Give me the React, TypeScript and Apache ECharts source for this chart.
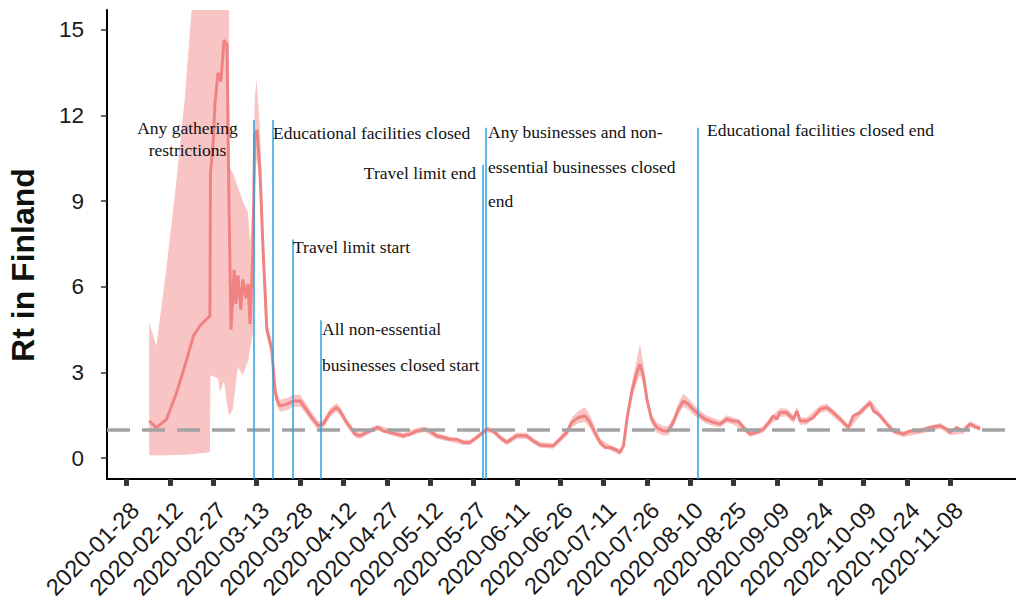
import React, { useEffect, useRef } from "react";
import * as echarts from "echarts";

// ---------- data ----------
const xTickLabels = [
  "2020-01-28", "2020-02-12", "2020-02-27", "2020-03-13", "2020-03-28",
  "2020-04-12", "2020-04-27", "2020-05-12", "2020-05-27", "2020-06-11",
  "2020-06-26", "2020-07-11", "2020-07-26", "2020-08-10", "2020-08-25",
  "2020-09-09", "2020-09-24", "2020-10-09", "2020-10-24", "2020-11-08",
];
const yTickValues = [0, 3, 6, 9, 12, 15];

// days after 2020-01-28
const rtDays = [
  7.8, 10.3, 13.8, 17.3, 20.8, 23.1, 25.3, 28.8, 29.0, 29.9,
  30.6, 31.6, 32.6, 33.7, 34.7, 35.4, 36.1, 37.2, 37.8, 38.5,
  39.5, 40.2, 41.3, 42.0, 42.7, 43.7, 44.3, 45.1, 46.1, 47.2,
  48.5, 50.2, 51.3, 51.9, 53.0, 55.4, 57.7, 60.0, 61.7, 64.1,
  66.3, 68.0, 70.4, 72.6, 73.8, 76.1, 79.0, 80.7, 83.1, 85.3,
  87.0, 88.8, 91.2, 93.4, 95.7, 98.1, 100.3, 103.2, 105.0, 107.2,
  109.6, 111.9, 114.2, 116.5, 118.8, 121.1, 124.6, 126.8, 129.2, 131.5,
  134.9, 138.4, 140.7, 143.0, 145.4, 147.6, 149.9, 152.3, 154.0, 156.3,
  158.6, 160.3, 162.0, 163.8, 165.5, 167.2, 169.0, 170.7, 171.9, 173.1,
  174.7, 176.5, 177.6, 178.8, 180.0, 181.6, 183.4, 185.7, 187.4, 189.1,
  190.9, 192.6, 194.3, 196.0, 197.8, 200.2, 203.0, 205.3, 207.6, 209.9,
  211.6, 213.4, 215.7, 218.0, 220.3, 222.6, 223.7, 224.9, 226.1, 228.3,
  230.7, 231.9, 233.0, 235.3, 237.6, 239.9, 242.2, 243.9, 246.9, 249.7,
  251.4, 253.8, 255.4, 257.2, 258.4, 260.7, 263.0, 265.3, 268.7, 271.0,
  274.6, 278.0, 281.5, 283.7, 284.9, 287.2, 289.4, 291.8, 294.2, 295.3,
];
const rtValues = [
  1.30, 1.07, 1.36, 2.30, 3.46, 4.28, 4.63, 4.98, 10.0, 11.0,
  12.5, 13.5, 13.2, 14.65, 14.5, 9.0, 4.5, 6.6, 5.4, 6.4,
  5.2, 6.26, 5.6, 6.1, 4.7, 7.3, 11.3, 11.5, 10.1, 7.3,
  4.51, 3.81, 2.41, 2.06, 1.83, 1.89, 2.0, 2.0, 1.77, 1.42,
  1.13, 1.19, 1.60, 1.77, 1.65, 1.25, 0.84, 0.78, 0.90, 1.01,
  1.07, 0.95, 0.90, 0.84, 0.78, 0.84, 0.95, 1.01, 0.95, 0.78,
  0.72, 0.66, 0.66, 0.55, 0.55, 0.72, 1.01, 0.95, 0.72, 0.55,
  0.78, 0.78, 0.60, 0.46, 0.43, 0.43, 0.66, 0.90, 1.25, 1.42,
  1.48, 1.25, 0.90, 0.55, 0.37, 0.37, 0.31, 0.20, 0.43, 1.36,
  2.30, 3.00, 3.29, 2.88, 2.06, 1.36, 1.07, 0.95, 0.95, 1.25,
  1.71, 2.00, 1.89, 1.71, 1.54, 1.36, 1.25, 1.19, 1.36, 1.30,
  1.30, 1.07, 0.84, 0.90, 1.01, 1.30, 1.48, 1.36, 1.60, 1.60,
  1.36, 1.65, 1.30, 1.30, 1.42, 1.71, 1.77, 1.65, 1.36, 1.07,
  1.48, 1.60, 1.77, 1.94, 1.65, 1.48, 1.19, 0.95, 0.84, 0.95,
  0.95, 1.07, 1.13, 1.01, 0.90, 1.07, 0.95, 1.19, 1.07, 1.03,
];

const bandDays = [
  7.8, 10.3, 13.8, 17.3, 20.1, 22.5, 28.8, 29.0, 31.6, 32.3,
  33.7, 34.7, 35.4, 35.6, 36.7, 38.5, 40.2, 42.0, 42.7, 43.7,
  44.3, 44.9, 46.1, 47.2, 48.5, 50.2, 51.3, 51.9, 53.0, 55.4,
  57.7, 60.0, 61.7, 64.1, 66.3, 68.0, 70.4, 72.6, 73.8, 76.1,
  79.0, 80.7, 85.3, 87.0, 91.2, 95.7, 100.3, 103.2, 107.2, 111.9,
  116.5, 118.8, 121.1, 124.6, 126.8, 129.2, 131.5, 134.9, 138.4, 140.7,
  143.0, 147.6, 149.9, 152.3, 154.0, 156.3, 158.6, 160.3, 162.0, 163.8,
  167.2, 170.7, 171.9, 173.1, 174.7, 176.5, 177.6, 178.8, 180.0, 181.6,
  183.4, 185.7, 187.4, 189.1, 190.9, 192.6, 194.3, 196.0, 197.8, 200.2,
  203.0, 205.3, 207.6, 209.9, 213.4, 215.7, 220.3, 222.6, 226.1, 228.3,
  230.7, 231.9, 233.0, 235.3, 239.9, 242.2, 246.9, 249.7, 253.8, 257.2,
  260.7, 265.3, 268.7, 274.6, 281.5, 284.9, 289.4, 291.8, 295.3,
];
const bandLow = [
  0.10, 0.10, 0.10, 0.12, 0.12, 0.13, 0.20, 2.9, 2.8, 2.3,
  2.7, 1.9, 1.5, 1.5, 1.7, 3.2, 2.9, 3.4, 3.8, 4.4,
  9.5, 10.5, 9.6, 6.8, 4.25, 3.55, 2.2, 1.85, 1.63, 1.68,
  1.8, 1.8, 1.58, 1.25, 0.98, 1.05, 1.45, 1.62, 1.5, 1.12,
  0.72, 0.68, 0.91, 0.97, 0.8, 0.68, 0.85, 0.91, 0.68, 0.57,
  0.46, 0.46, 0.63, 0.91, 0.85, 0.62, 0.45, 0.67, 0.67, 0.5,
  0.36, 0.33, 0.55, 0.77, 1.08, 1.22, 1.26, 1.05, 0.72, 0.42,
  0.27, 0.10, 0.32, 1.2, 2.05, 2.65, 2.9, 2.55, 1.85, 1.2,
  0.9, 0.78, 0.8, 1.1, 1.52, 1.8, 1.7, 1.52, 1.38, 1.22,
  1.12, 1.07, 1.24, 1.18, 0.96, 0.74, 0.9, 1.17, 1.45, 1.46,
  1.22, 1.5, 1.17, 1.18, 1.58, 1.64, 1.24, 0.96, 1.48, 1.83,
  1.37, 0.85, 0.74, 0.85, 1.03, 0.8, 0.85, 1.09, 0.94,
];
const bandHigh = [
  4.75, 3.93, 6.7, 9.8, 12.6, 15.75, 15.75, 15.75, 15.75, 15.75,
  15.75, 15.75, 15.75, 10.2, 10.0, 9.5, 9.0, 8.6, 7.5, 9.0,
  12.5, 13.3, 11.6, 7.9, 4.8, 4.1, 2.65, 2.3, 2.05, 2.1,
  2.22, 2.22, 1.97, 1.6, 1.28, 1.34, 1.75, 1.93, 1.8, 1.38,
  0.96, 0.88, 1.11, 1.17, 1.0, 0.88, 1.05, 1.11, 0.88, 0.75,
  0.64, 0.64, 0.81, 1.11, 1.05, 0.82, 0.65, 0.89, 0.89, 0.7,
  0.56, 0.53, 0.77, 1.03, 1.42, 1.65, 1.78, 1.5, 1.1, 0.68,
  0.47, 0.30, 0.55, 1.55, 2.6, 3.45, 4.0, 3.3, 2.3, 1.55,
  1.25, 1.12, 1.12, 1.42, 1.93, 2.25, 2.1, 1.9, 1.72, 1.52,
  1.4, 1.32, 1.5, 1.43, 1.18, 0.95, 1.12, 1.43, 1.75, 1.74,
  1.5, 1.8, 1.43, 1.42, 1.84, 1.9, 1.48, 1.18, 1.72, 2.05,
  1.59, 1.05, 0.94, 1.05, 1.23, 1.0, 1.05, 1.29, 1.12,
];

const eventDays = [44.1, 50.7, 57.3, 67.2, 123.1, 124.3, 197.6];
const eventTops = [11.85, 11.85, 7.66, 4.83, 10.28, 11.57, 11.57];
const threshold = 1;

// annotation texts: [text, x, y, align]
const annotations: [string, number, number, string][] = [
  ["Any gathering", 187.5, 128, "center"],
  ["restrictions", 187.5, 150, "center"],
  ["Educational facilities closed", 273, 133, "left"],
  ["Travel limit end", 476, 173, "right"],
  ["Any businesses and non-", 488, 132, "left"],
  ["essential businesses closed", 488, 167, "left"],
  ["end", 488, 201, "left"],
  ["Travel limit start", 293, 247, "left"],
  ["All non-essential", 322, 329, "left"],
  ["businesses closed start", 322, 365, "left"],
  ["Educational facilities closed end", 707, 130, "left"],
];

const BASE = Date.UTC(2020, 0, 28);
const DAY = 86400000;
const dayOf = (s: string) => (Date.parse(s + "T00:00:00Z") - BASE) / DAY;
const labelOf = (d: number) =>
  new Date(BASE + Math.round(d) * DAY).toISOString().slice(0, 10);

const SANS = "'Liberation Sans', Arial, Helvetica, sans-serif";
const SERIF = "'Liberation Serif', 'Times New Roman', serif";

export default function App() {
  const ref = useRef<HTMLDivElement>(null);

  useEffect(() => {
    if (!ref.current) return;
    const chart = echarts.init(ref.current, undefined, { renderer: "svg" });
    const xTickDays = xTickLabels.map(dayOf);

    const n = Math.min(rtDays.length, rtValues.length);
    const rtData = [];
    for (let i = 0; i < n; i++) rtData.push([rtDays[i], rtValues[i]]);

    const m = Math.min(bandDays.length, bandLow.length, bandHigh.length);

    const eventLines = eventDays.map((d, i) => [
      { coord: [d, -0.73], lineStyle: { color: "#2aa0dc", width: 1.5, type: "solid" } },
      { coord: [d, eventTops[i]] },
    ]);

    const graphic: any[] = annotations.map(([t, x, y, al]) => ({
      type: "text",
      x,
      y,
      z: 100,
      style: {
        text: t,
        fill: "#111",
        fontSize: 17.5,
        fontFamily: SERIF,
        align: al,
        textAlign: al,
        verticalAlign: "middle",
        textVerticalAlign: "middle",
      },
    }));
    graphic.push({
      type: "text",
      x: 23,
      y: 265,
      rotation: Math.PI / 2,
      z: 100,
      style: {
        text: "Rt in Finland",
        fill: "#111",
        fontSize: 32,
        fontWeight: "bold",
        fontFamily: SANS,
        align: "center",
        textAlign: "center",
        verticalAlign: "middle",
        textVerticalAlign: "middle",
      },
    });

    chart.setOption({
      animation: false,
      backgroundColor: "#ffffff",
      grid: { left: 107, right: 0, top: 10, bottom: 122 },
      xAxis: {
        type: "value",
        min: -6.8,
        max: 307.7,
        splitLine: { show: false },
        axisLine: { show: true, onZero: false, lineStyle: { color: "#000", width: 2 } },
        axisTick: {
          show: true,
          customValues: xTickDays,
          length: 7,
          lineStyle: { color: "#333", width: 5 },
        },
        axisLabel: {
          show: true,
          customValues: xTickDays,
          rotate: 45,
          margin: 19,
          verticalAlign: "top",
          fontSize: 23.5,
          color: "#1a1a1a",
          fontFamily: SANS,
          formatter: (v: number) => labelOf(v),
        },
      },
      yAxis: {
        type: "value",
        min: -0.73,
        max: 15.7,
        splitLine: { show: false },
        axisLine: { show: true, onZero: false, lineStyle: { color: "#000", width: 2 } },
        axisTick: {
          show: true,
          customValues: yTickValues,
          length: 6,
          lineStyle: { color: "#333", width: 1.5 },
        },
        axisLabel: {
          show: true,
          customValues: yTickValues,
          margin: 23,
          fontSize: 22.5,
          color: "#1a1a1a",
          fontFamily: SANS,
        },
      },
      series: [
        {
          type: "custom",
          name: "band",
          silent: true,
          clip: true,
          z: 1,
          data: [[bandDays[0], bandLow[0]]],
          renderItem: (params: any, api: any) => {
            if (params.dataIndex !== 0) return null;
            const pts: number[][] = [];
            for (let i = 0; i < m; i++) pts.push(api.coord([bandDays[i], bandHigh[i]]));
            for (let i = m - 1; i >= 0; i--) pts.push(api.coord([bandDays[i], bandLow[i]]));
            return {
              type: "polygon",
              shape: { points: pts },
              style: { fill: "#f9c4c4", stroke: "none" },
            };
          },
        },
        {
          type: "line",
          name: "Rt",
          data: rtData,
          symbol: "none",
          silent: true,
          lineStyle: { color: "#f08282", width: 3 },
          z: 2,
        },
        {
          type: "line",
          name: "markers",
          data: [],
          symbol: "none",
          silent: true,
          z: 3,
          markLine: {
            silent: true,
            symbol: ["none", "none"],
            label: { show: false },
            animation: false,
            data: [
              {
                yAxis: threshold,
                lineStyle: { color: "#a3a3a3", width: 3.5, type: [23, 12] },
              },
              ...eventLines,
            ],
          },
        },
      ],
      graphic,
    });

    return () => chart.dispose();
  }, []);

  return (
    <div
      ref={ref}
      style={{ position: "fixed", left: 0, top: 0, width: 1016, height: 602, background: "#fff" }}
    />
  );
}
